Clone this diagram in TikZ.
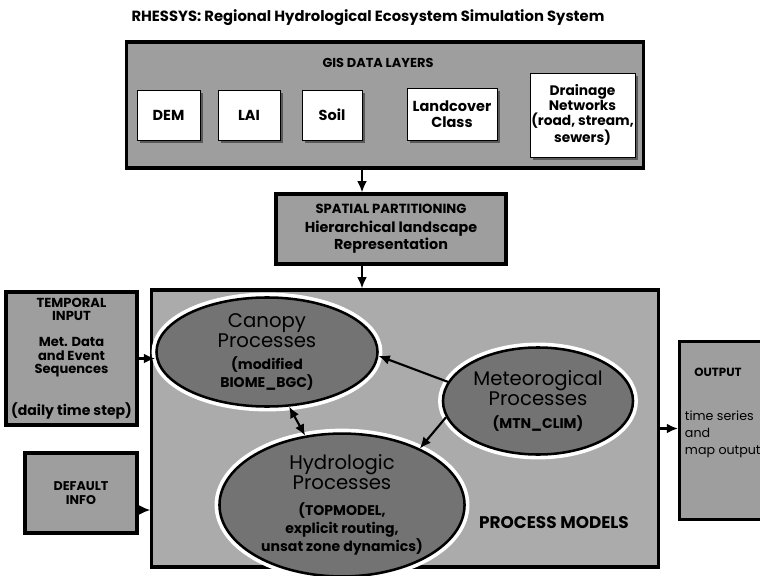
\documentclass[tikz,border=0pt]{standalone}
\usepackage{fontspec}
\setmainfont{Poppins}
\usetikzlibrary{arrows.meta,calc,positioning,shapes.geometric,shadows}

\newcommand{\procnote}[1]{{\fontsize{10}{10}\selectfont\bfseries #1}}

\begin{document}
\begin{tikzpicture}[
    x=0.025cm, y=-0.025cm,
    >={Latex[length=8pt,width=7pt]},
    arr/.style={->, line width=1.5pt},
    title/.style={font=\fontsize{10.5}{12}\selectfont\bfseries},
    caption/.style={font=\fontsize{9.2}{10}\selectfont\bfseries},
    panel/.style={draw, line width=2.2pt, fill=black!38, inner sep=0pt, align=center,
        font=\fontsize{9.3}{9.5}\selectfont\bfseries},
    layer/.style={draw, line width=0.5pt, fill=white, inner sep=0pt, align=center,
        font=\fontsize{10.3}{11}\selectfont\bfseries,
        drop shadow={shadow xshift=2pt, shadow yshift=-2pt, fill=black!65, opacity=1}},
    proc/.style={ellipse, draw, line width=1.8pt, fill=black!55, inner sep=0pt, align=center,
        font=\fontsize{14}{13}\selectfont, preaction={draw=white, line width=7pt}},
]
\clip (0,0) rectangle (760,576);

\node[title] (ttl) at (368,18) {RHESSYS: Regional Hydrological Ecosystem Simulation System};

% ---- GIS data layers ----
\node[panel, minimum width=12.9cm, minimum height=3.15cm] (gis) at (385,105) {};
\node[caption] (gislbl) at (378,63) {GIS DATA LAYERS};
\node[layer, minimum width=1.575cm, minimum height=1.25cm] (dem) at (168.5,115) {DEM};
\node[layer, minimum width=1.55cm, minimum height=1.25cm] (lai) at (249,115) {LAI};
\node[layer, minimum width=1.5cm, minimum height=1.25cm] (soil) at (332,115) {Soil};
\node[layer, minimum width=2.25cm, minimum height=1.3cm] (land) at (452,114) {Landcover\\Class};
\node[layer, minimum width=2.625cm, minimum height=2.1cm, font=\fontsize{9.8}{10.5}\selectfont\bfseries]
    (drain) at (582.5,115) {Drainage\\Networks\\(road, stream,\\sewers)};

% ---- spatial partitioning ----
\coordinate (mid) at (362,0);
\node[panel, minimum width=5.75cm, minimum height=1.75cm, font=\fontsize{10.2}{10.5}\selectfont\bfseries]
    (spatial) at (391,229)
    {{\fontsize{9.4}{10}\selectfont SPATIAL PARTITIONING}\\[3pt]Hierarchical landscape\\Representation};
\draw[arr] (gis.south -| mid) -- (spatial.north -| mid);

% ---- process models ----
\node[panel, fill=black!33, minimum width=12.65cm, minimum height=6.925cm] (main) at (405,428.5) {};
\draw[arr] (spatial.south -| mid) -- (main.north -| mid);

\node[proc, minimum width=5.525cm, minimum height=2.725cm] (canopy) at (267,352)
    {Canopy\\Processes\\[2pt]\procnote{(modified}\\\procnote{BIOME\_BGC)}};
\node[proc, minimum width=4.75cm, minimum height=2.675cm] (meteo) at (538,401)
    {Meteorogical\\Processes\\[3pt]\procnote{(MTN\_CLIM)}};
\node[proc, minimum width=6.125cm, minimum height=3.125cm] (hydro) at (342,505)
    {Hydrologic\\Processes\\[5pt]\procnote{(TOPMODEL,}\\\procnote{explicit routing,}\\\procnote{unsat zone dynamics)}};
\node[caption, font=\fontsize{12}{12}\selectfont\bfseries] (pmlbl) at (554,523) {PROCESS MODELS};

\draw[arr] (meteo.168) -- (canopy.-2);
\draw[arr] (meteo.190) -- (hydro.36);
\draw[arr, <->] (canopy.-68) -- (hydro.118);

% ---- inputs ----
\node[panel, minimum width=3.275cm, minimum height=3.325cm] (temporal) at (71.5,358.5)
    {TEMPORAL\\INPUT\\[9pt]Met. Data\\and Event\\Sequences\\[17pt]{\fontsize{10}{10}\selectfont(daily time step)}};
\node[panel, minimum width=2.8cm, minimum height=2cm, font=\fontsize{9}{10}\selectfont\bfseries]
    (default) at (81,493) {DEFAULT\\INFO};

\draw[arr] (temporal.east) -- (temporal.east -| canopy.west);
\draw[arr] ([yshift=-0.425cm]default.east) -- ([yshift=-0.425cm]default.east -| main.west);

% ---- output ----
\node[panel, anchor=north west, minimum width=2.8cm, minimum height=4.45cm] (output) at (678,340) {};
\node[caption, font=\fontsize{8.4}{10}\selectfont\bfseries] (outlbl) at (718,372) {OUTPUT};
\node[anchor=west, align=left, font=\fontsize{9}{12}\selectfont] (outtxt) at (680,434)
    {time series\\and\\map output};
\draw[arr] (main.east) -- (main.east -| output.west);
\end{tikzpicture}
\end{document}
